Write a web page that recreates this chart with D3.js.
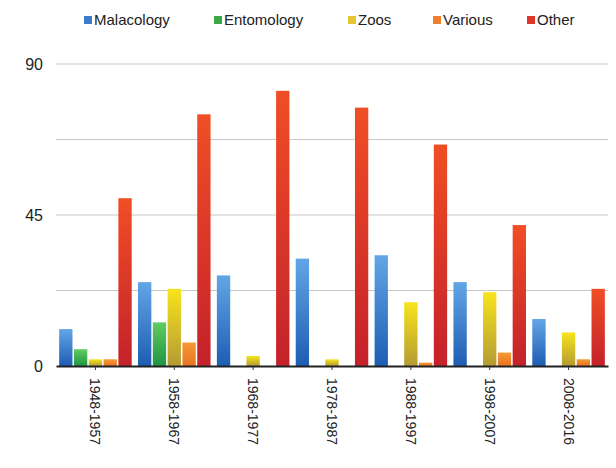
<!DOCTYPE html>
<html>
<head>
<meta charset="utf-8">
<script src="https://cdn.jsdelivr.net/npm/d3@7"></script>
<style>
  html, body { margin: 0; padding: 0; background: #fff; }
  svg { display: block; font-family: "Liberation Sans", Arial, Helvetica, sans-serif; }
</style>
</head>
<body>
<div id="chart"></div>
<script>
// decades on the x axis
const periods = ["1948-1957", "1958-1967", "1968-1977", "1978-1987", "1988-1997", "1998-2007", "2008-2016"];
const seriesNames = ["Malacology", "Entomology", "Zoos", "Various", "Other"];

// values, one per period
const malacology = [11, 25, 27, 32, 33, 25, 14];
const entomology = [5, 13, 0, 0, 0, 0, 0];
const zoos       = [2, 23, 3, 2, 19, 22, 10];
const various    = [2, 7, 0, 0, 1, 4, 2];
const other      = [50, 75, 82, 77, 66, 42, 23];

const yTicks = [0, 45, 90];
const gridValues = [0, 22.5, 45, 67.5, 90];

const seriesValues = [malacology, entomology, zoos, various, other];

// colours: legend swatch + gradient top/bottom for bars
const legendColors = ["#3d7cc9", "#3aa845", "#e6c535", "#ee7f2d", "#e0352a"];
const gradTop      = ["#62a6e6", "#62cc62", "#f7e41c", "#f59a35", "#f04e25"];
const gradBottom   = ["#1d5db3", "#1f9440", "#b59b33", "#e9731f", "#c4212b"];

const width = 616, height = 468;
const margin = { left: 56, right: 8, top: 64, bottom: 102 };

const svg = d3.select("#chart").append("svg")
  .attr("width", width).attr("height", height);

const defs = svg.append("defs");
seriesNames.forEach((s, i) => {
  const g = defs.append("linearGradient")
    .attr("id", "grad" + i)
    .attr("x1", 0).attr("y1", 0).attr("x2", 0).attr("y2", 1);
  g.append("stop").attr("offset", "0%").attr("stop-color", gradTop[i]);
  g.append("stop").attr("offset", "100%").attr("stop-color", gradBottom[i]);
});

const x0 = d3.scaleBand()
  .domain(periods)
  .range([margin.left, width - margin.right])
  .paddingInner(0.08)
  .paddingOuter(0.04);

const x1 = d3.scaleBand()
  .domain(seriesNames)
  .range([0, x0.bandwidth()])
  .paddingInner(0.1);

const y = d3.scaleLinear()
  .domain([0, 90])
  .range([height - margin.bottom, margin.top]);

// gridlines
svg.append("g")
  .selectAll("line")
  .data(gridValues.filter(v => v > 0))
  .join("line")
  .attr("x1", margin.left).attr("x2", width - margin.right)
  .attr("y1", d => y(d)).attr("y2", d => y(d))
  .attr("stroke", "#c9c6c6").attr("stroke-width", 1.2);

// y labels
svg.append("g")
  .selectAll("text")
  .data(yTicks)
  .join("text")
  .attr("x", 43)
  .attr("y", d => y(d))
  .attr("dy", "0.36em")
  .attr("text-anchor", "end")
  .attr("font-size", 16)
  .attr("fill", "#222")
  .text(d => d);

// bars
const groups = svg.append("g")
  .selectAll("g")
  .data(periods)
  .join("g")
  .attr("transform", d => `translate(${x0(d)},0)`);

groups.selectAll("rect")
  .data((p, pi) => seriesNames.map((s, si) => ({ s, si, v: seriesValues[si][pi] })))
  .join("rect")
  .attr("x", d => x1(d.s))
  .attr("width", x1.bandwidth())
  .attr("y", d => y(d.v))
  .attr("height", d => y(0) - y(d.v))
  .attr("fill", d => `url(#grad${d.si})`);

// x axis
const xAxis = svg.append("g")
  .attr("transform", `translate(0,${y(0)})`)
  .call(d3.axisBottom(x0).tickSize(4).tickSizeOuter(0));
xAxis.select(".domain").attr("stroke", "#222").attr("stroke-width", 2.2);
xAxis.selectAll(".tick line").attr("stroke", "#333");
xAxis.selectAll(".tick text")
  .attr("font-size", 14)
  .attr("fill", "#222")
  .attr("font-family", "Liberation Sans, Arial, sans-serif")
  .attr("transform", "rotate(90)")
  .attr("text-anchor", "start")
  .attr("x", 12)
  .attr("y", 0)
  .attr("dy", "0.36em");

// legend
const legendX = [84, 214, 348, 433, 527];
const legend = svg.append("g");
seriesNames.forEach((s, i) => {
  legend.append("rect")
    .attr("x", legendX[i]).attr("y", 16)
    .attr("width", 8).attr("height", 8)
    .attr("fill", legendColors[i]);
  legend.append("text")
    .attr("x", legendX[i] + 10).attr("y", 19.5)
    .attr("dy", "0.36em")
    .attr("font-size", 15)
    .attr("fill", "#222")
    .text(s);
});
</script>
</body>
</html>
